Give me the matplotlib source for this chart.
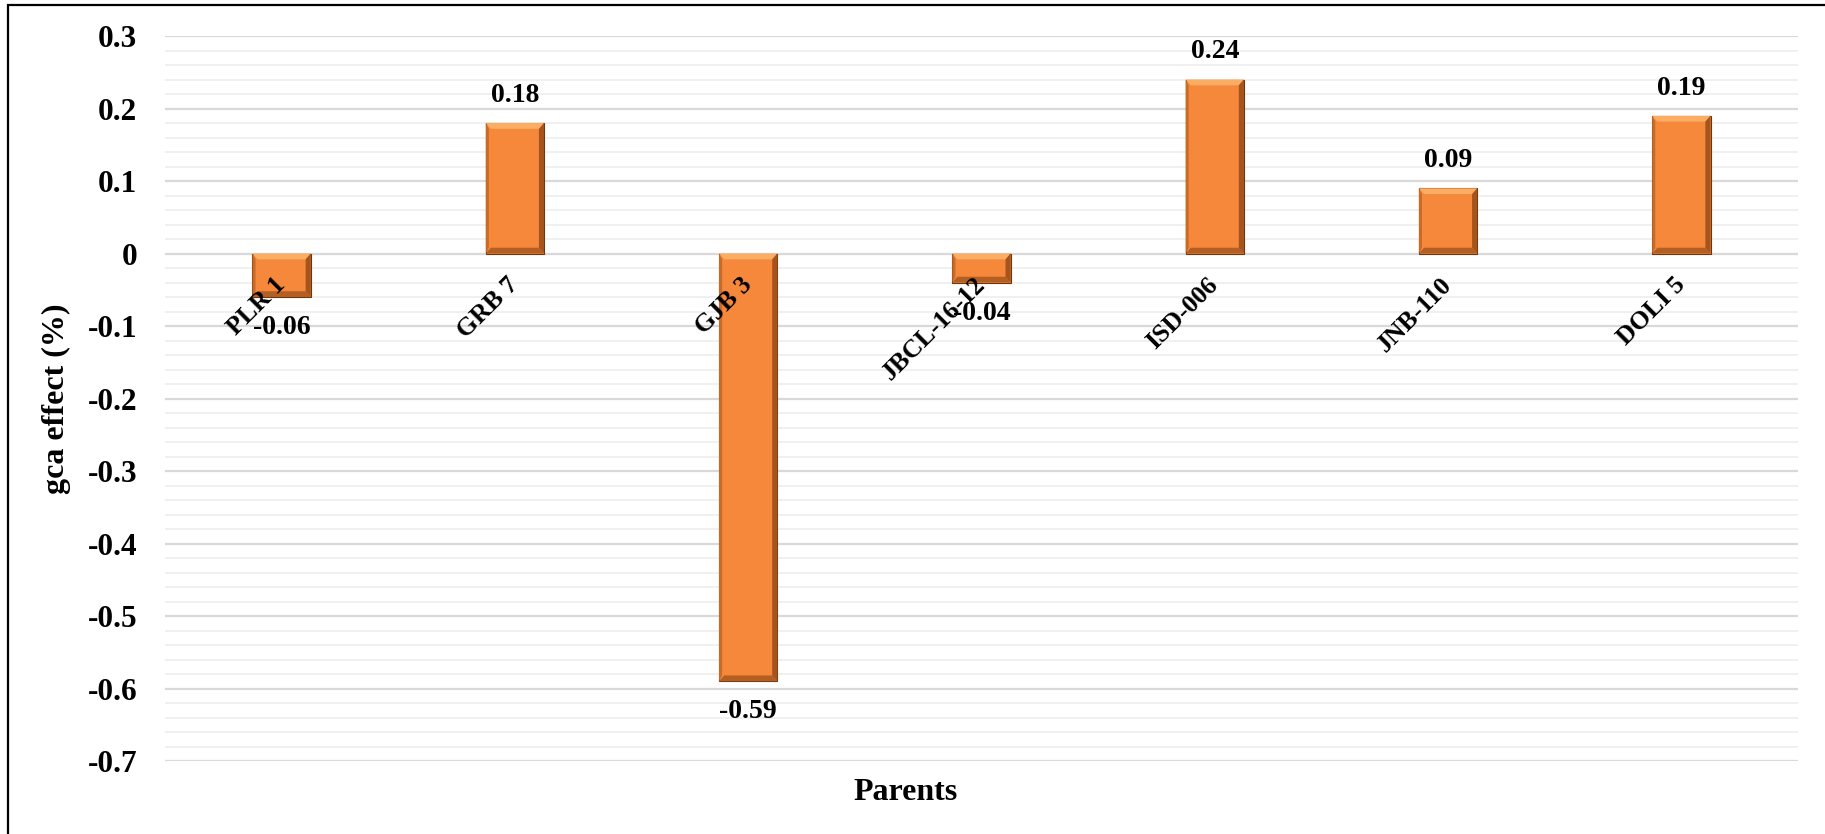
import numpy as np
import matplotlib.pyplot as plt
from matplotlib.patches import Rectangle, Polygon

plt.rcParams['font.family'] = ['Liberation Serif', 'DejaVu Serif']
plt.rcParams['font.weight'] = 'bold'

parents = ['PLR 1', 'GRB 7', 'GJB 3', 'JBCL-16-12', 'ISD-006', 'JNB-110', 'DOLI 5']
gca_effect = [-0.06, 0.18, -0.59, -0.04, 0.24, 0.09, 0.19]
y_ticks = [0.3, 0.2, 0.1, 0.0, -0.1, -0.2, -0.3, -0.4, -0.5, -0.6, -0.7]
y_tick_labels = ['0.3', '0.2', '0.1', '0', '-0.1', '-0.2', '-0.3', '-0.4', '-0.5', '-0.6', '-0.7']

fig = plt.figure(figsize=(18.25, 8.34), dpi=100)
ax = fig.add_axes([0.0904, 0.0875, 0.8948, 0.8693])

x = np.arange(len(parents))
bw = 0.25
face = '#F5883B'

# gridlines: light minor every 0.02, darker major every 0.1
ax.set_ylim(-0.7, 0.3)
ax.set_xlim(-0.5, len(parents) - 0.5)
ax.set_yticks(y_ticks)
ax.set_yticklabels(y_tick_labels)
ax.set_yticks(np.arange(-0.7, 0.3001, 0.02), minor=True)
ax.grid(axis='y', which='major', color='#D9D9D9', linewidth=1.6, zorder=0)
ax.grid(axis='y', which='minor', color='#F0F0F0', linewidth=1.4, zorder=0)
ax.tick_params(axis='both', which='both', length=0)
ax.tick_params(axis='y', labelsize=22.5, pad=20)
ax.set_xticks([])
for s in ax.spines.values():
    s.set_visible(False)

bars = ax.bar(x, gca_effect, width=bw, color=face, edgecolor='#6B3510',
              linewidth=0.8, zorder=3)

# bevelled look: light top band, dark sides and bottom
dx, dy = 0.022, 0.008
for xi, v in zip(x, gca_effect):
    x0, x1 = xi - bw / 2, xi + bw / 2
    top, bot = max(v, 0), min(v, 0)
    ax.add_patch(Polygon([(x0, top), (x1, top), (x1 - dx, top - dy), (x0 + dx, top - dy)],
                         closed=True, facecolor='#FBAE63', edgecolor='none', zorder=4))
    ax.add_patch(Polygon([(x0, bot), (x1, bot), (x1 - dx, bot + dy), (x0 + dx, bot + dy)],
                         closed=True, facecolor='#B35E22', edgecolor='none', zorder=4))
    ax.add_patch(Polygon([(x1, top), (x1, bot), (x1 - dx, bot + dy), (x1 - dx, top - dy)],
                         closed=True, facecolor='#A5541D', edgecolor='none', zorder=4))
    ax.add_patch(Polygon([(x0, top), (x0, bot), (x0 + dx * 0.6, bot + dy), (x0 + dx * 0.6, top - dy)],
                         closed=True, facecolor='#C96B27', edgecolor='none', zorder=4))

# value labels
for xi, v in zip(x, gca_effect):
    if v >= 0:
        ax.annotate(f'{v:.2f}', (xi, v), xytext=(0, 11), textcoords='offset points',
                    ha='center', va='bottom', fontsize=20, fontweight='bold', zorder=5)
    else:
        ax.annotate(f'{v:.2f}', (xi, v), xytext=(0, -13), textcoords='offset points',
                    ha='center', va='top', fontsize=20, fontweight='bold', zorder=5)

# category labels sit along the zero line, rotated
for xi, name in zip(x, parents):
    ax.annotate(name, (xi, 0), xytext=(0, -20), textcoords='offset points',
                ha='right', va='center', rotation=45, rotation_mode='anchor',
                fontsize=18.5, fontweight='bold', zorder=6)

ax.set_ylabel('gca effect (%)', fontsize=23, fontweight='bold', labelpad=12)
fig.text(906 / 1825, 1 - 793 / 834, 'Parents', ha='center', va='center',
         fontsize=23, fontweight='bold')

# chart frame
fig.patches.append(Rectangle((8 / 1825, -0.05), 1.1, 1.05 - 5 / 834, transform=fig.transFigure,
                             fill=False, edgecolor='black', linewidth=1.6))

fig.savefig('out.png', dpi=100)
plt.close(fig)
